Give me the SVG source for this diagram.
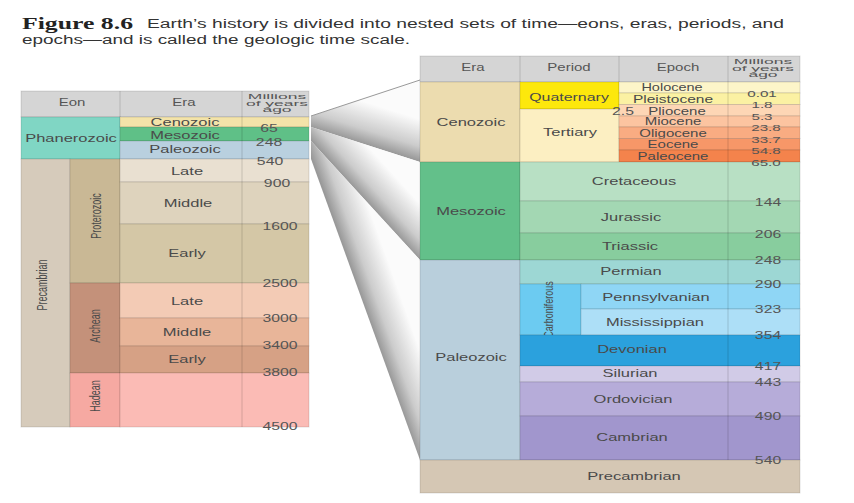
<svg xmlns="http://www.w3.org/2000/svg" width="854" height="503" viewBox="0 0 854 503">
<style>
.t{font-family:"Liberation Sans",Arial,sans-serif;font-size:11px;fill:#4a4a4a;text-anchor:middle}
.e{font-family:"Liberation Sans",Arial,sans-serif;font-size:10px;fill:#4a4a4a;text-anchor:middle}
.n{font-family:"Liberation Sans",Arial,sans-serif;font-size:10.5px;fill:#555;text-anchor:middle}
.s{font-family:"Liberation Sans",Arial,sans-serif;font-size:9.5px;fill:#555;text-anchor:middle}
.h{font-family:"Liberation Sans",Arial,sans-serif;font-size:10px;fill:#555;text-anchor:middle}
.m{font-family:"Liberation Sans",Arial,sans-serif;font-size:7px;fill:#555;text-anchor:middle}
.v{font-family:"Liberation Sans",Arial,sans-serif;font-size:9px;fill:#4a4a4a;text-anchor:middle}
.c{stroke:#000;stroke-opacity:.12;stroke-width:1}
.d{stroke:#000;stroke-opacity:.15;stroke-width:1;fill:none}
</style>
<defs>
<linearGradient id="g1" gradientUnits="userSpaceOnUse" x1="366" y1="144.5" x2="378" y2="106">
<stop offset="0" stop-color="#999"/><stop offset="0.35" stop-color="#cccccc"/><stop offset="1" stop-color="#fbfbfb"/>
</linearGradient>
<linearGradient id="g2" gradientUnits="userSpaceOnUse" x1="366" y1="200.5" x2="394" y2="175">
<stop offset="0" stop-color="#999"/><stop offset="0.35" stop-color="#cccccc"/><stop offset="1" stop-color="#fbfbfb"/>
</linearGradient>
<linearGradient id="g3" gradientUnits="userSpaceOnUse" x1="366" y1="309.5" x2="401" y2="297">
<stop offset="0" stop-color="#999"/><stop offset="0.35" stop-color="#cccccc"/><stop offset="1" stop-color="#fbfbfb"/>
</linearGradient>
</defs>
<rect width="854" height="503" fill="#fff"/>

<g id="title">
<text x="22" y="29" font-family="Liberation Serif,serif" font-weight="bold" font-size="16" fill="#222" textLength="111" lengthAdjust="spacingAndGlyphs">Figure 8.6</text>
<text x="147" y="28" font-family="Liberation Sans,Arial,sans-serif" font-size="12" fill="#333" textLength="637" lengthAdjust="spacingAndGlyphs">Earth’s history is divided into nested sets of time—eons, eras, periods, and</text>
<text x="22" y="44" font-family="Liberation Sans,Arial,sans-serif" font-size="12" fill="#333" textLength="388" lengthAdjust="spacingAndGlyphs">epochs—and is called the geologic time scale.</text>
</g>

<g id="connectors">
<polygon points="311,116 420,80 420,162 311,127" fill="url(#g1)"/>
<polygon points="311,127 420,162 420,260 311,141" fill="url(#g2)"/>
<polygon points="311,141 420,260 420,460 311,159" fill="url(#g3)"/>
<line x1="311" y1="116" x2="420" y2="80" stroke="#999" stroke-width="1"/>
</g>

<g id="left-table">
<g id="left-header">
<rect x="21" y="91" width="288" height="26" fill="#d5d5d5" class="c"/>
<line x1="120" y1="91" x2="120" y2="117" class="d"/>
<line x1="242" y1="91" x2="242" y2="117" class="d"/>
<text class="h" transform="translate(72,106) scale(1.5,1)">Eon</text>
<text class="h" transform="translate(184,106) scale(1.5,1)">Era</text>
<text class="m" transform="translate(277,99) scale(2.5,1)">Millions</text>
<text class="m" transform="translate(277,105.5) scale(2.5,1)">of years</text>
<text class="m" transform="translate(277,112) scale(2.5,1)">ago</text>
</g>
<g id="phanerozoic"><rect x="21" y="117" width="99" height="42" fill="#80d6c4" class="c"/><text class="t" transform="translate(71,142) scale(1.5,1)">Phanerozoic</text></g>
<g id="precambrian-eon"><rect x="21" y="159" width="49" height="268" fill="#d6cbbb" class="c"/><text class="v" font-size="9.5" transform="translate(47,285) rotate(-90) scale(1,1.6)">Precambrian</text></g>
<g id="proterozoic"><rect x="70" y="159" width="50" height="124" fill="#c9b895" class="c"/><text class="v" transform="translate(101,216) rotate(-90) scale(1,1.6)">Proterozoic</text></g>
<g id="archean"><rect x="70" y="283" width="50" height="90" fill="#c4917a" class="c"/><text class="v" transform="translate(100,326) rotate(-90) scale(1,1.6)">Archean</text></g>
<g id="hadean"><rect x="70" y="373" width="50" height="54" fill="#f6a9a2" class="c"/><text class="v" transform="translate(100,396) rotate(-90) scale(1,1.6)">Hadean</text></g>
<g id="l-cenozoic"><rect x="120" y="117" width="189" height="10" fill="#f3e3a9" class="c"/><text class="t" transform="translate(185,126) scale(1.5,1)">Cenozoic</text></g>
<g id="l-mesozoic"><rect x="120" y="127" width="189" height="14" fill="#5fc087" class="c"/><text class="t" transform="translate(185,139) scale(1.5,1)">Mesozoic</text></g>
<g id="l-paleozoic"><rect x="120" y="141" width="189" height="18" fill="#b9d0df" class="c"/><text class="t" transform="translate(185,153) scale(1.5,1)">Paleozoic</text></g>
<g id="l-prot-late"><rect x="120" y="159" width="189" height="23" fill="#e9e0d1" class="c"/><text class="t" transform="translate(187,175) scale(1.5,1)">Late</text></g>
<g id="l-prot-middle"><rect x="120" y="182" width="189" height="42" fill="#ded3bd" class="c"/><text class="t" transform="translate(188,207) scale(1.5,1)">Middle</text></g>
<g id="l-prot-early"><rect x="120" y="224" width="189" height="59" fill="#d4c7a6" class="c"/><text class="t" transform="translate(187,257) scale(1.5,1)">Early</text></g>
<g id="l-arch-late"><rect x="120" y="283" width="189" height="35" fill="#f3cbb5" class="c"/><text class="t" transform="translate(187,305) scale(1.5,1)">Late</text></g>
<g id="l-arch-middle"><rect x="120" y="318" width="189" height="28" fill="#e8b599" class="c"/><text class="t" transform="translate(187,336) scale(1.5,1)">Middle</text></g>
<g id="l-arch-early"><rect x="120" y="346" width="189" height="27" fill="#d6a185" class="c"/><text class="t" transform="translate(187,363) scale(1.5,1)">Early</text></g>
<g id="l-hadean"><rect x="120" y="373" width="189" height="54" fill="#fbbbb5" class="c"/></g>
<line x1="242" y1="117" x2="242" y2="427" class="d"/>
<g id="left-numbers">
<text class="n" transform="translate(269,132) scale(1.5,1)">65</text>
<text class="n" transform="translate(269,146) scale(1.5,1)">248</text>
<text class="n" transform="translate(270,165) scale(1.5,1)">540</text>
<text class="n" transform="translate(277,187) scale(1.5,1)">900</text>
<text class="n" transform="translate(280,230) scale(1.5,1)">1600</text>
<text class="n" transform="translate(280,287) scale(1.5,1)">2500</text>
<text class="n" transform="translate(280,322) scale(1.5,1)">3000</text>
<text class="n" transform="translate(280,349) scale(1.5,1)">3400</text>
<text class="n" transform="translate(280,376) scale(1.5,1)">3800</text>
<text class="n" transform="translate(280,430) scale(1.5,1)">4500</text>
</g>
</g>

<g id="right-table">
<g id="right-header">
<rect x="420" y="56" width="380" height="26" fill="#d5d5d5" class="c"/>
<line x1="520" y1="56" x2="520" y2="82" class="d"/>
<line x1="619" y1="56" x2="619" y2="82" class="d"/>
<line x1="728" y1="56" x2="728" y2="82" class="d"/>
<text class="h" transform="translate(473,71) scale(1.5,1)">Era</text>
<text class="h" transform="translate(569,71) scale(1.5,1)">Period</text>
<text class="h" transform="translate(678,71) scale(1.5,1)">Epoch</text>
<text class="m" transform="translate(763,64) scale(2.5,1)">Millions</text>
<text class="m" transform="translate(763,70.5) scale(2.5,1)">of years</text>
<text class="m" transform="translate(763,77) scale(2.5,1)">ago</text>
</g>
<g id="r-cenozoic"><rect x="420" y="82" width="100" height="80" fill="#ecdcaf" class="c"/><text class="t" transform="translate(471,126) scale(1.5,1)">Cenozoic</text></g>
<g id="r-mesozoic"><rect x="420" y="162" width="100" height="98" fill="#63c08a" class="c"/><text class="t" transform="translate(471,215) scale(1.5,1)">Mesozoic</text></g>
<g id="r-paleozoic"><rect x="420" y="260" width="100" height="200" fill="#b9cfdc" class="c"/><text class="t" transform="translate(471,361) scale(1.5,1)">Paleozoic</text></g>
<g id="quaternary"><rect x="520" y="82" width="99" height="27" fill="#fde80c" class="c"/><text class="t" transform="translate(569,101) scale(1.45,1)">Quaternary</text></g>
<g id="tertiary"><rect x="520" y="109" width="99" height="53" fill="#fcefc2" class="c"/><text class="t" transform="translate(570,136) scale(1.5,1)">Tertiary</text></g>
<g id="holocene"><rect x="619" y="82" width="181" height="11" fill="#fdf5c9" class="c"/><text class="e" transform="translate(672,91) scale(1.45,1)">Holocene</text></g>
<g id="pleistocene"><rect x="619" y="93" width="181" height="11.5" fill="#fbf1a3" class="c"/><text class="e" transform="translate(673,103) scale(1.55,1)">Pleistocene</text></g>
<g id="pliocene"><rect x="619" y="104.5" width="181" height="11.5" fill="#fdd6b5" class="c"/><text class="e" transform="translate(677,114.5) scale(1.5,1)">Pliocene</text></g>
<g id="miocene"><rect x="619" y="116" width="181" height="11" fill="#fcc4a0" class="c"/><text class="e" transform="translate(673,125) scale(1.5,1)">Miocene</text></g>
<g id="oligocene"><rect x="619" y="127" width="181" height="11.5" fill="#f9ac82" class="c"/><text class="e" transform="translate(673,136.5) scale(1.5,1)">Oligocene</text></g>
<g id="eocene"><rect x="619" y="138.5" width="181" height="11.5" fill="#f79768" class="c"/><text class="e" transform="translate(673,148) scale(1.5,1)">Eocene</text></g>
<g id="paleocene"><rect x="619" y="150" width="181" height="12" fill="#f4834c" class="c"/><text class="e" transform="translate(673,160) scale(1.5,1)">Paleocene</text></g>
<g id="cretaceous"><rect x="520" y="162" width="280" height="39" fill="#b8e0c4" class="c"/><text class="t" transform="translate(634,185) scale(1.5,1)">Cretaceous</text></g>
<g id="jurassic"><rect x="520" y="201" width="280" height="32" fill="#a3d7b3" class="c"/><text class="t" transform="translate(631,221) scale(1.5,1)">Jurassic</text></g>
<g id="triassic"><rect x="520" y="233" width="280" height="27" fill="#88cd9e" class="c"/><text class="t" transform="translate(630,250) scale(1.5,1)">Triassic</text></g>
<g id="permian"><rect x="520" y="260" width="280" height="24" fill="#9dd7d4" class="c"/><text class="t" transform="translate(631,275) scale(1.5,1)">Permian</text></g>
<g id="carboniferous"><rect x="520" y="284" width="61" height="51" fill="#6ccbf1" class="c"/><text class="v" font-size="8" transform="translate(553,309.5) rotate(-90) scale(1,1.5)">Carboniferous</text></g>
<g id="pennsylvanian"><rect x="581" y="284" width="219" height="25" fill="#8fd6f5" class="c"/><text class="t" transform="translate(656,301) scale(1.5,1)">Pennsylvanian</text></g>
<g id="mississippian"><rect x="581" y="309" width="219" height="26" fill="#addff7" class="c"/><text class="t" transform="translate(655,326) scale(1.5,1)">Mississippian</text></g>
<g id="devonian"><rect x="520" y="335" width="280" height="31" fill="#2ba1dd" class="c"/><text class="t" transform="translate(632,353) scale(1.5,1)">Devonian</text></g>
<g id="silurian"><rect x="520" y="366" width="280" height="16" fill="#d1cbe7" class="c"/><text class="t" transform="translate(630,377) scale(1.5,1)">Silurian</text></g>
<g id="ordovician"><rect x="520" y="382" width="280" height="34" fill="#b6acd9" class="c"/><text class="t" transform="translate(633,403) scale(1.5,1)">Ordovician</text></g>
<g id="cambrian"><rect x="520" y="416" width="280" height="44" fill="#a196cd" class="c"/><text class="t" transform="translate(632,441) scale(1.5,1)">Cambrian</text></g>
<g id="r-precambrian"><rect x="420" y="460" width="380" height="33" fill="#d5c7b4" class="c"/><text class="t" transform="translate(634,480) scale(1.5,1)">Precambrian</text></g>
<line x1="728" y1="82" x2="728" y2="460" class="d"/>
<g id="right-numbers">
<text class="n" transform="translate(623,115) scale(1.5,1)">2.5</text>
<text class="s" transform="translate(762,96.5) scale(1.6,1)">0.01</text>
<text class="s" transform="translate(762,107.5) scale(1.6,1)">1.8</text>
<text class="s" transform="translate(762,119.5) scale(1.6,1)">5.3</text>
<text class="s" transform="translate(766,130.5) scale(1.6,1)">23.8</text>
<text class="s" transform="translate(766,142.5) scale(1.6,1)">33.7</text>
<text class="s" transform="translate(766,153.5) scale(1.6,1)">54.8</text>
<text class="s" transform="translate(766,165.5) scale(1.6,1)">65.0</text>
<text class="n" transform="translate(768,206) scale(1.5,1)">144</text>
<text class="n" transform="translate(768,238) scale(1.5,1)">206</text>
<text class="n" transform="translate(768,264) scale(1.5,1)">248</text>
<text class="n" transform="translate(768,288) scale(1.5,1)">290</text>
<text class="n" transform="translate(768,313) scale(1.5,1)">323</text>
<text class="n" transform="translate(768,339) scale(1.5,1)">354</text>
<text class="n" transform="translate(768,370) scale(1.5,1)">417</text>
<text class="n" transform="translate(768,386) scale(1.5,1)">443</text>
<text class="n" transform="translate(768,420) scale(1.5,1)">490</text>
<text class="n" transform="translate(768,464) scale(1.5,1)">540</text>
</g>
</g>
</svg>
